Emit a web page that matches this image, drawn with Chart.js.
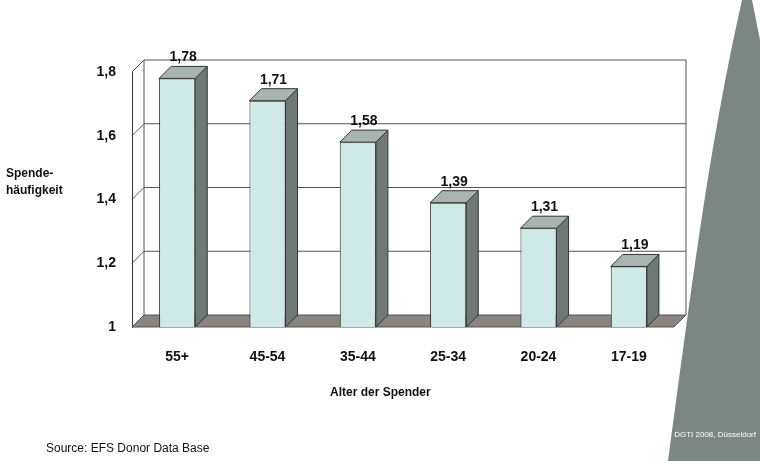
<!DOCTYPE html>
<html><head><meta charset="utf-8">
<script src="https://cdn.jsdelivr.net/npm/chart.js@4"></script>
<style>
body{margin:0;width:760px;height:461px;overflow:hidden;background:#fff;font-family:Arial,"Liberation Sans",sans-serif}
#wrap{position:relative;width:760px;height:461px}
.t{position:absolute;font-weight:bold;font-size:12px;color:#111;white-space:nowrap}
</style></head><body>
<div id="wrap">
<canvas id="c" width="760" height="461"></canvas>
<div class="t" style="left:6px;top:165px;line-height:17px">Spende-<br>häufigkeit</div>
<div class="t" style="left:330px;top:385px">Alter der Spender</div>
<div class="t" style="left:46px;top:441px;font-weight:normal;font-size:12px">Source: EFS Donor Data Base</div>
<div class="t" style="right:4px;top:430px;font-weight:normal;font-size:8px;color:#fff">DGTI 2008, Düsseldorf</div>
</div>
<script>
const categories = ['55+', '45-54', '35-44', '25-34', '20-24', '17-19'];
const values = [1.78, 1.71, 1.58, 1.39, 1.31, 1.19];
const yTicks = [1, 1.2, 1.4, 1.6, 1.8];
const D = 12;

const fmt = v => v.toFixed(2).replace('.', ',');

const bg = {
  id: 'bg',
  beforeDraw(chart) {
    const c = chart.ctx;
    c.save();
    c.fillStyle = '#7c8783';
    c.beginPath();
    c.moveTo(742, 0);
    c.bezierCurveTo(708, 150, 690, 300, 668, 461);
    c.lineTo(760, 461); c.lineTo(760, 0); c.closePath();
    c.fill();
    c.fillStyle = '#fff';
    c.beginPath();
    c.moveTo(752, 0);
    c.quadraticCurveTo(756, 20, 760, 40);
    c.lineTo(760, 0); c.closePath();
    c.fill();
    c.restore();
  },
  beforeDatasetsDraw(chart) {
    const c = chart.ctx, a = chart.chartArea, y = chart.scales.y;
    c.save();
    c.strokeStyle = '#555'; c.lineWidth = 1;
    yTicks.forEach(t => {
      const py = y.getPixelForValue(t);
      if (t > 1) { c.beginPath(); c.moveTo(a.left, py); c.lineTo(a.left + D, py - D); c.lineTo(a.right + D, py - D); c.stroke(); }
    });
    c.beginPath(); c.moveTo(a.left + D, a.top - D); c.lineTo(a.left + D, a.bottom - D); c.stroke();
    c.beginPath(); c.moveTo(a.right + D, a.top - D); c.lineTo(a.right + D, a.bottom - D); c.stroke();
    c.fillStyle = '#8a8480';
    c.beginPath();
    c.moveTo(a.left, a.bottom); c.lineTo(a.left + D, a.bottom - D);
    c.lineTo(a.right + D, a.bottom - D); c.lineTo(a.right, a.bottom); c.closePath();
    c.fill(); c.stroke();
    c.restore();
  },
  afterDatasetsDraw(chart) {
    const c = chart.ctx, btm = chart.scales.y.getPixelForValue(1);
    c.save();
    chart.getDatasetMeta(0).data.forEach((b, i) => {
      const l = b.x - b.width / 2, r = b.x + b.width / 2, t = b.y;
      c.strokeStyle = '#333'; c.lineWidth = 1;
      c.fillStyle = '#6f7a76';
      c.beginPath(); c.moveTo(r, t); c.lineTo(r + D, t - D); c.lineTo(r + D, btm - D); c.lineTo(r, btm); c.closePath(); c.fill(); c.stroke();
      c.fillStyle = '#a9b4b0';
      c.beginPath(); c.moveTo(l, t); c.lineTo(l + D, t - D); c.lineTo(r + D, t - D); c.lineTo(r, t); c.closePath(); c.fill(); c.stroke();
      c.fillStyle = '#111'; c.font = 'bold 14px Arial'; c.textAlign = 'center';
      c.fillText(fmt(values[i]), b.x + 6, t - D - 5);
    });
    c.restore();
  }
};

new Chart(document.getElementById('c'), {
  type: 'bar',
  data: { labels: categories, datasets: [{ data: values, backgroundColor: '#cfe8e8', borderColor: '#333', borderWidth: 1, categoryPercentage: 1, barPercentage: 0.4 }] },
  options: {
    responsive: false, animation: false,
    layout: { padding: { left: 0, top: 72, right: 86, bottom: 0 } },
    plugins: { legend: { display: false }, tooltip: { enabled: false } },
    scales: {
      y: {
        min: 1, max: 1.8,
        afterFit: s => { s.width = 132; },
        afterBuildTicks: s => { s.ticks = yTicks.map(v => ({ value: v })); },
        grid: { display: false },
        border: { display: true, color: '#333' },
        ticks: { color: '#111', font: { weight: 'bold', size: 14, family: 'Arial' }, padding: 8, callback: v => v === 1 ? '1' : v.toFixed(1).replace('.', ',') }
      },
      x: {
        afterFit: s => { s.height = 134; },
        grid: { display: false },
        border: { display: false },
        ticks: { color: '#111', padding: 14, font: { weight: 'bold', size: 14, family: 'Arial' } }
      }
    }
  },
  plugins: [bg]
});
</script>
</body></html>
